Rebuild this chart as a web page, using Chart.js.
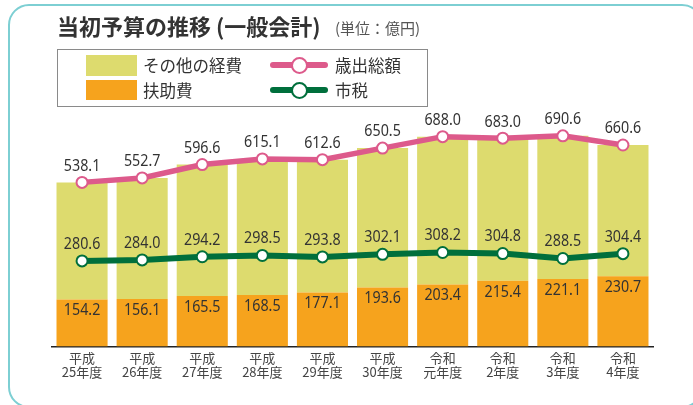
<!DOCTYPE html>
<html>
<head>
<meta charset="utf-8">
<script src="https://cdn.jsdelivr.net/npm/chart.js@4/dist/chart.umd.min.js"></script>
<style>
    html, body { margin: 0; padding: 0; background: #fff; }
    #wrap { position: relative; width: 693px; height: 405px; overflow: hidden; font-family: "Noto Sans CJK JP", sans-serif; color: #333; }
    #frame { position: absolute; left: 8px; top: 4px; width: 695px; height: 404px; box-sizing: border-box; border: 2.5px solid #7dcfd3; border-radius: 21px; }
    #title { position: absolute; left: 57px; top: 12px; font-size: 22px; font-weight: bold; line-height: 26px; color: #333; white-space: nowrap; }
    #unit { position: absolute; left: 335px; top: 15px; font-size: 15px; line-height: 26px; color: #555; white-space: nowrap; }
    #legendBox { position: absolute; left: 57px; top: 49px; width: 371px; height: 58px; box-sizing: border-box; border: 1px solid #8a8a8a; }
    .sw { position: absolute; width: 51px; }
    .lt { position: absolute; font-size: 16.5px; line-height: 20px; white-space: nowrap; color: #333; }
    .ln { position: absolute; left: 270px; width: 58px; height: 6px; border-radius: 3px; }
    .mk { position: absolute; left: 290.5px; width: 17px; height: 17px; box-sizing: border-box; border-radius: 50%; background: #fff; border: 2.5px solid; }
    canvas { position: absolute; left: 0; top: 0; }
</style>
</head>
<body>
<div id="wrap">
    <div id="frame"></div>
    <canvas id="myChart" width="693" height="405"></canvas>
    <div id="title">当初予算の推移 (一般会計)</div>
    <div id="unit">(単位：億円)</div>
    <div id="legendBox"></div>
    <div class="sw" style="left:86px;top:55px;height:21px;background:#dddb6e"></div>
    <div class="lt" style="left:143px;top:55px">その他の経費</div>
    <div class="sw" style="left:86px;top:80px;height:20px;background:#f6a31d"></div>
    <div class="lt" style="left:143px;top:80px">扶助費</div>
    <div class="ln" style="top:62px;background:#dd5a8b"></div>
    <div class="mk" style="top:56.5px;border-color:#dd5a8b"></div>
    <div class="lt" style="left:335px;top:55px">歳出総額</div>
    <div class="ln" style="top:87px;background:#006f3c"></div>
    <div class="mk" style="top:81.5px;border-color:#006f3c"></div>
    <div class="lt" style="left:335px;top:80px">市税</div>
</div>
<script>
// fiscal years (tick labels)
var years = [
    ['平成', '25年度'], ['平成', '26年度'], ['平成', '27年度'], ['平成', '28年度'], ['平成', '29年度'],
    ['平成', '30年度'], ['令和', '元年度'], ['令和', '2年度'], ['令和', '3年度'], ['令和', '4年度']
];

// values in 億円
var totalSpending = [538.1, 552.7, 596.6, 615.1, 612.6, 650.5, 688.0, 683.0, 690.6, 660.6];
var cityTax = [280.6, 284.0, 294.2, 298.5, 293.8, 302.1, 308.2, 304.8, 288.5, 304.4];
var assistance = [154.2, 156.1, 165.5, 168.5, 177.1, 193.6, 203.4, 215.4, 221.1, 230.7];
var otherExpenses = [383.9, 396.6, 431.1, 446.6, 435.5, 456.9, 484.6, 467.6, 469.5, 429.9];

var pink = '#dd5a8b';
var green = '#006f3c';

// number labels above points / inside the orange bars
var valueLabels = {
    id: 'valueLabels',
    afterDatasetsDraw: function (chart) {
        var ctx = chart.ctx;
        ctx.save();
        ctx.font = '17px "Noto Sans"';
        ctx.fillStyle = '#333';
        ctx.textAlign = 'center';
        ctx.textBaseline = 'middle';
        chart.data.datasets.forEach(function (ds, i) {
            if (ds.labelOffset === undefined) return;
            var meta = chart.getDatasetMeta(i);
            meta.data.forEach(function (el, j) {
                ctx.save();
                ctx.translate(el.x, el.y + ds.labelOffset);
                ctx.scale(0.84, 1);
                ctx.fillText(ds.data[j].toFixed(1), 0, 0);
                ctx.restore();
            });
        });
        ctx.restore();
    }
};

var ctx = document.getElementById('myChart').getContext('2d');
var myChart = new Chart(ctx, {
    type: 'bar',
    data: {
        labels: years,
        datasets: [
            {
                type: 'line', label: '歳出総額', data: totalSpending, stack: 'total', order: 0,
                borderColor: pink, borderWidth: 5.5, pointRadius: 5.5, pointBorderWidth: 2,
                pointBackgroundColor: '#fff', pointBorderColor: pink, tension: 0, labelOffset: -16.5
            },
            {
                type: 'line', label: '市税', data: cityTax, stack: 'tax', order: 0,
                borderColor: green, borderWidth: 6, pointRadius: 5.5, pointBorderWidth: 2,
                pointBackgroundColor: '#fff', pointBorderColor: green, tension: 0, labelOffset: -17
            },
            {
                label: '扶助費', data: assistance, stack: 'bars', order: 1,
                backgroundColor: '#f6a31d', barPercentage: 0.85, categoryPercentage: 1, labelOffset: 11
            },
            {
                label: 'その他の経費', data: otherExpenses, stack: 'bars', order: 1,
                backgroundColor: '#dddb6e', barPercentage: 0.85, categoryPercentage: 1
            }
        ]
    },
    options: {
        responsive: false,
        animation: false,
        layout: { padding: { left: 52, right: 40, top: 102.5, bottom: 0 } },
        plugins: { legend: { display: false }, tooltip: { enabled: false } },
        scales: {
            x: {
                stacked: true,
                grid: { display: false, drawTicks: false },
                border: { display: true, color: '#222', width: 1.5 },
                ticks: {
                    color: '#444', padding: 4, maxRotation: 0, autoSkip: false,
                    font: { family: '"Noto Sans CJK JP"', size: 13, lineHeight: 1.1 }
                },
                afterFit: function (axis) { axis.height = 58.5; }
            },
            y: { stacked: true, display: false, min: 0, max: 800 }
        }
    },
    plugins: [valueLabels]
});
</script>
</body>
</html>
